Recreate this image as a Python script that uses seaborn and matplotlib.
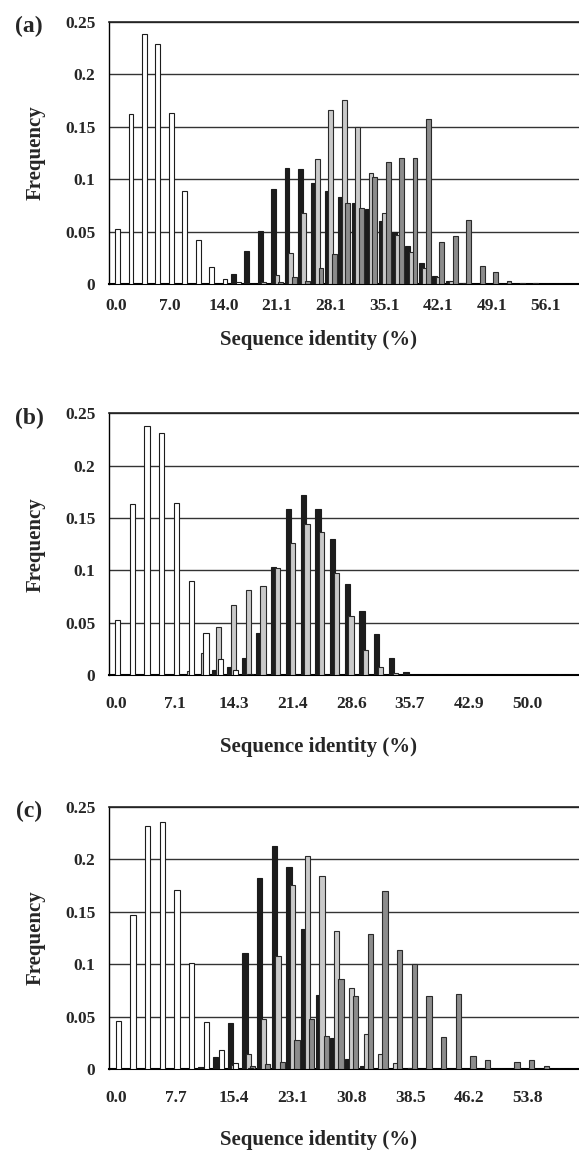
import numpy as np
import matplotlib
matplotlib.use("Agg")
import matplotlib.pyplot as plt
import seaborn as sns

# ---- data: frequency per identity bin, 4 series per panel ----
a_labels = ["0.0", "7.0", "14.0", "21.1", "28.1", "35.1", "42.1", "49.1", "56.1"]
a_white = [0.053, 0.162, 0.238, 0.229, 0.163, 0.089, 0.042, 0.016, 0.005, 0.002,
           0, 0, 0, 0, 0, 0, 0, 0, 0, 0, 0, 0, 0, 0, 0, 0, 0, 0, 0, 0, 0, 0, 0, 0, 0]
a_black = [0, 0, 0, 0, 0, 0, 0, 0, 0, 0.010,
           0.032, 0.051, 0.091, 0.111, 0.110, 0.096, 0.089, 0.083, 0.077, 0.072,
           0.060, 0.050, 0.036, 0.020, 0.008, 0.003, 0.001, 0, 0, 0, 0, 0, 0, 0, 0]
a_light = [0, 0, 0, 0, 0, 0, 0, 0, 0, 0,
           0, 0.002, 0.009, 0.030, 0.068, 0.119, 0.166, 0.175, 0.150, 0.106,
           0.068, 0.047, 0.031, 0.015, 0.007, 0.003, 0.001, 0, 0, 0, 0, 0, 0, 0, 0]
a_dark = [0, 0, 0, 0, 0, 0, 0, 0, 0, 0,
          0, 0, 0.002, 0.007, 0.003, 0.015, 0.029, 0.077, 0.073, 0.102,
          0.116, 0.120, 0.120, 0.157, 0.040, 0.046, 0.061, 0.017, 0.012, 0.003,
          0.0016, 0.0016, 0, 0, 0]

b_labels = ["0.0", "7.1", "14.3", "21.4", "28.6", "35.7", "42.9", "50.0"]
b_white = [0.053, 0.163, 0.238, 0.231, 0.164, 0.090, 0.040, 0.015, 0.005, 0.001,
           0, 0, 0, 0, 0, 0, 0, 0, 0, 0, 0, 0, 0, 0, 0, 0, 0, 0, 0, 0, 0, 0]
b_black = [0, 0, 0, 0, 0, 0, 0, 0.005, 0.008, 0.016,
           0.040, 0.103, 0.159, 0.172, 0.159, 0.130, 0.087, 0.061, 0.039, 0.016,
           0.003, 0, 0, 0, 0, 0, 0, 0, 0, 0, 0, 0]
b_light = [0, 0, 0, 0, 0, 0.004, 0.021, 0.046, 0.067, 0.081,
           0.085, 0.102, 0.126, 0.144, 0.137, 0.097, 0.056, 0.024, 0.008, 0.002,
           0, 0, 0, 0, 0, 0, 0, 0, 0, 0, 0, 0]
b_dark = [0] * 32

c_labels = ["0.0", "7.7", "15.4", "23.1", "30.8", "38.5", "46.2", "53.8"]
c_white = [0.046, 0.147, 0.232, 0.235, 0.171, 0.101, 0.045, 0.018, 0.006, 0.001,
           0, 0, 0, 0, 0, 0, 0, 0, 0, 0, 0, 0, 0, 0, 0, 0, 0, 0, 0, 0, 0, 0]
c_black = [0, 0, 0, 0, 0, 0, 0.002, 0.012, 0.044, 0.111,
           0.182, 0.213, 0.193, 0.134, 0.071, 0.030, 0.010, 0.003, 0, 0,
           0, 0, 0, 0, 0, 0, 0, 0, 0, 0, 0, 0]
c_light = [0, 0, 0, 0, 0, 0, 0, 0, 0.004, 0.015,
           0.048, 0.108, 0.175, 0.203, 0.184, 0.132, 0.077, 0.034, 0.015, 0.006,
           0.001, 0, 0, 0, 0, 0, 0, 0, 0, 0, 0, 0]
c_dark = [0, 0, 0, 0, 0, 0, 0, 0, 0, 0.003,
          0.005, 0.007, 0.028, 0.048, 0.032, 0.086, 0.070, 0.129, 0.170, 0.114,
          0.100, 0.070, 0.031, 0.072, 0.013, 0.009, 0, 0.007, 0.009, 0.003, 0, 0]

sns.set_style("white")
plt.rcParams["font.family"] = ["Liberation Serif", "DejaVu Serif"]
plt.rcParams["font.weight"] = "bold"

W, H = 579, 1151
fig = plt.figure(figsize=(W / 100, H / 100), dpi=100)

BAR_W = 0.36
# (offset within category, fill, edge) -- drawn in this order
styles = [(-0.26, "#1c1c1c", "#1c1c1c"),
          (0.0, "#c9c9c9", "#2a2a2a"),
          (0.28, "#8c8c8c", "#2a2a2a"),
          (0.12, "#ffffff", "#1c1c1c")]


def draw_panel(rect, series, labels, xlim, tag, xlab_y, tick_pad):
    left, top, right, bottom = rect
    ax = fig.add_axes([left / W, 1 - bottom / H, (right - left) / W, (bottom - top) / H])
    n = len(series[0])
    for vals, (off, fc, ec) in zip(series, styles):
        sns.barplot(x=np.arange(n) + off, y=vals, native_scale=True, width=BAR_W,
                    color=fc, edgecolor=ec, linewidth=0.8, saturation=1,
                    errorbar=None, ax=ax, zorder=3)
    ax.set_xlim(*xlim)
    ax.set_ylim(0, 0.25)
    ax.set_yticks([0, 0.05, 0.1, 0.15, 0.2, 0.25])
    ax.set_yticklabels(["0", "0.05", "0.1", "0.15", "0.2", "0.25"])
    ax.set_xticks(np.arange(0, 4 * len(labels), 4))
    ax.set_xticklabels(labels)
    ax.set_xticks(np.arange(n) + 0.5, minor=True)
    ax.tick_params(axis="x", which="major", length=0, pad=tick_pad, labelsize=12.5)
    ax.tick_params(axis="x", which="minor", direction="in", length=4, width=1, color="black")
    ax.tick_params(axis="y", length=0, pad=10, labelsize=12.5)
    ax.yaxis.grid(True, color="#333333", linewidth=1.0)
    ax.set_axisbelow(True)
    ax.set_xlabel("")
    ax.set_ylabel("Frequency", fontsize=15, fontweight="bold", labelpad=14)
    ax.spines["right"].set_visible(False)
    ax.spines["top"].set_color("#222222")
    ax.spines["top"].set_linewidth(1.2)
    ax.spines["left"].set_color("black")
    ax.spines["left"].set_linewidth(1.0)
    ax.spines["bottom"].set_color("black")
    ax.spines["bottom"].set_linewidth(1.5)
    fig.text(29 / W, 1 - (top + 5) / H, tag, ha="center", va="center",
             fontsize=17, fontweight="bold")
    fig.text(318 / W, 1 - xlab_y / H, "Sequence identity (%)", ha="center", va="center",
             fontsize=15, fontweight="bold")
    return ax


draw_panel((109.3, 21.7, 579, 284.2), [a_black, a_light, a_dark, a_white],
           a_labels, (-0.5, 34.2), "(a)", 340, 10)
draw_panel((109.3, 413.3, 579, 675.0), [b_black, b_light, b_dark, b_white],
           b_labels, (-0.45, 31.2), "(b)", 747, 15)
draw_panel((109.3, 806.7, 579, 1069.3), [c_black, c_light, c_dark, c_white],
           c_labels, (-0.5, 31.3), "(c)", 1140, 15)

fig.savefig("out.png", dpi=100)
